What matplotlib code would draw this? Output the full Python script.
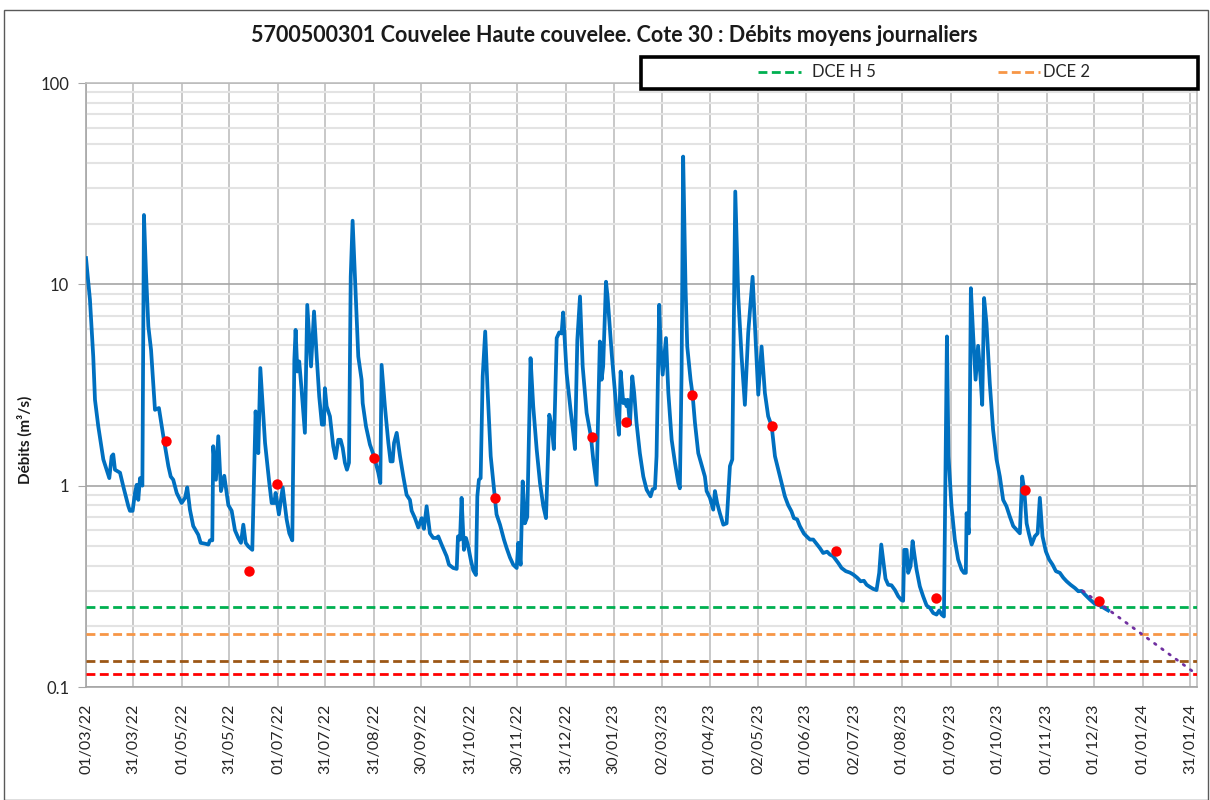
import numpy as np
import matplotlib
matplotlib.use("Agg")
import matplotlib.pyplot as plt
import matplotlib.dates as mdates
from matplotlib.lines import Line2D
from matplotlib.patches import Rectangle
from matplotlib.ticker import LogLocator, NullFormatter
from datetime import datetime

plt.rcParams['font.family'] = ['Lato', 'DejaVu Sans']

# ---------------- data ----------------
start_date = "01/03/22"
# daily mean discharge (m3/s): day offset from start_date, value
flow_days = [
    0, 2.5, 4.6, 5.7, 7.8, 11, 14.8, 16.3, 17.3, 18.4, 21.6, 23.7, 26.9, 27.9, 29.6, 31.1, 32.2, 33.2, 34.3, 35.8,
    36.8, 38.1, 39.6, 41.3, 43.8, 46.3, 49.1, 52.3, 53.8, 55.4, 57.6, 60.7, 62.9, 64.3, 66, 68.1, 71.3, 72.8, 75.6,
    77.7, 78.7, 80.2, 80.8, 82.5, 84, 85.7, 87.8, 90.4, 92.5, 94.6, 96.7, 98.4, 99.9, 101.4, 103, 105.6, 107.7,
    109.4, 110.7, 113.7, 116.4, 117.9, 119.6, 120.4, 122.5, 124.9, 127.4, 129.1, 131, 132.3, 133.1, 134.2, 135.4,
    136.9, 139, 140.5, 142.9, 144.8, 146.5, 148.1, 149.8, 151.1, 151.7, 152.8, 154.9, 157, 158.5, 160.2, 161.7,
    163, 164.4, 165.7, 167, 168.1, 169.3, 170.8, 172.9, 175, 175.7, 177.8, 180.3, 182.9, 185.6, 186.9, 187.7,
    189.8, 192, 193.4, 194.7, 195.6, 197.3, 199.4, 201.5, 203.6, 205.7, 206.8, 208.9, 211, 213.1, 214.6, 216.3,
    218.4, 220.5, 222.7, 223.7, 225.8, 229, 230.5, 233.2, 235.4, 236.2, 237.5, 238.5, 240, 241.3, 242.7, 244.3,
    245.9, 247.6, 248.5, 249.5, 250.6, 251.9, 253.5, 255, 257, 259.7, 260.7, 262.9, 265.4, 267.1, 269.2, 271.3,
    273.5, 274.5, 276, 277.3, 278.7, 280.2, 282.3, 284, 286.2, 288.3, 290.4, 292.1, 294.2, 295.7, 297.1, 298.9,
    300.5, 302, 303, 305.2, 307.7, 309.4, 310.5, 312, 313.7, 315.4, 317.9, 320.6, 322.1, 324.2, 326.3, 327.4,
    328.4, 330.2, 331.2, 333.8, 337, 338.4, 339.5, 341.2, 342.2, 343.3, 344, 345.4, 346.9, 348.1, 349.6, 351.7,
    353.9, 356, 358.5, 359.8, 361.3, 362.3, 364, 364.9, 366.2, 368.3, 369.8, 371.9, 374, 376.1, 377.1, 378.2,
    379.2, 380.7, 381.8, 383.9, 385.2, 386.7, 388.8, 390.9, 393, 394.1, 396.2, 398.3, 399.4, 400.8, 402.5, 404.7,
    406.8, 408.9, 410.4, 411, 412.3, 414.2, 416.3, 418.4, 420.5, 423.3, 424.8, 426.9, 429, 431.1, 433.2, 435.4,
    437.5, 439.6, 441.7, 443.8, 445.9, 448, 449.5, 451.6, 453.3, 455.9, 457.6, 459.7, 461.8, 464.3, 466, 468.1,
    470.6, 472.4, 474.5, 477.7, 479.8, 482.5, 485.1, 487.2, 489.7, 491.9, 494, 495.7, 497.8, 499.9, 502, 503.7,
    505, 506.2, 507.7, 509.4, 511.5, 513.7, 515.8, 517.9, 518.9, 519.6, 521.1, 522.1, 523.6, 524.9, 525.9, 527.4,
    529.5, 531.6, 533.8, 535.9, 538, 540.1, 541.8, 543.3, 544.8, 545.8, 546.7, 547.7, 549.6, 551.7, 553.8, 556,
    557.5, 558.7, 559.2, 560.6, 561.9, 563.4, 564.9, 566.5, 568, 569.1, 570.3, 571.8, 573.9, 576, 578.2, 580.3,
    582.4, 584.5, 586.7, 588.8, 590.9, 593, 594.5, 595.8, 597.3, 598.7, 600.5, 602.5, 604.3, 605.7, 607.4, 609.5,
    611.6, 613.8, 615.9, 618.4, 620.6, 622.7, 625.2, 628, 630.1, 632.2, 634.3, 637.5, 640.6, 643.8, 649.1,
]
flow_values = [
    13.5, 8.4, 4.38, 2.67, 1.97, 1.35, 1.09, 1.40, 1.43, 1.2, 1.16, 0.99, 0.79, 0.75, 0.75, 0.92, 1.01, 0.85, 1.09, 1.0,
    22.1, 11.4, 6.18, 4.73, 2.38, 2.43, 1.76, 1.25, 1.11, 1.07, 0.92, 0.82, 0.87, 0.98, 0.76, 0.63, 0.57, 0.52, 0.515,
    0.51, 0.535, 0.535, 1.57, 1.07, 1.76, 0.94, 1.12, 0.80, 0.75, 0.60, 0.55, 0.52, 0.64, 0.52, 0.50, 0.48, 2.34,
    1.45, 3.84, 1.63, 1.03, 0.82, 0.82, 0.92, 0.72, 0.98, 0.68, 0.58, 0.535, 4.22, 5.94, 3.69, 4.14,
    2.99, 1.83, 7.9, 3.91, 7.33, 4.38, 2.77, 2.01, 2.01, 3.05, 2.48, 2.21, 1.57, 1.37, 1.69, 1.69,
    1.54, 1.30, 1.2, 1.3, 10.9, 20.7, 10.9, 4.38, 3.36, 2.57, 1.97, 1.6, 1.40, 1.16, 1.03, 3.98,
    2.48, 1.63, 1.32, 1.32, 1.63, 1.83, 1.40, 1.11, 0.90, 0.85, 0.75, 0.69, 0.62, 0.69, 0.61, 0.79,
    0.58, 0.55, 0.55, 0.56, 0.51, 0.446, 0.405, 0.39, 0.386, 0.56, 0.54, 0.87, 0.48, 0.55, 0.50, 0.43,
    0.38, 0.36, 0.885, 1.07, 1.09, 3.49, 5.83, 2.99, 1.40, 0.86, 0.72, 0.64, 0.54, 0.49, 0.44, 0.405,
    0.39, 0.52, 0.405, 1.05, 0.65, 0.70, 4.3, 2.48, 1.51, 1.03, 0.79, 0.69, 2.25, 1.97, 1.52, 5.41,
    5.77, 5.7, 7.25, 3.62, 2.38, 1.83, 1.52, 5.3, 8.7, 3.91, 2.3, 1.76, 1.35, 1.01, 5.2, 3.36,
    3.91, 10.3, 8.7, 4.56, 2.3, 1.79, 3.69, 2.57, 2.67, 2.48, 2.67, 2.01, 3.49, 2.89, 2.05, 1.45,
    1.11, 0.955, 0.885, 0.96, 0.97, 1.40, 7.91, 4.91, 3.56, 5.41, 2.89, 1.69, 1.30, 1.03, 0.97, 3.62,
    43.1, 9.75, 4.91, 3.36, 2.83, 2.05, 1.45, 1.27, 1.11, 0.94, 0.87, 0.76, 0.94, 0.82, 0.73, 0.64,
    0.65, 1.25, 1.35, 3.62, 28.9, 8.7, 4.38, 2.52, 5.73, 10.9, 6.18, 2.83, 4.91, 2.89, 2.21, 1.98,
    1.40, 1.2, 1.03, 0.885, 0.80, 0.745, 0.69, 0.68, 0.63, 0.578, 0.56, 0.54, 0.54, 0.51, 0.49, 0.463,
    0.47, 0.455, 0.446, 0.413, 0.39, 0.376, 0.37, 0.362, 0.349, 0.335, 0.337, 0.322, 0.314, 0.307, 0.303, 0.369,
    0.51, 0.43, 0.345, 0.322, 0.32, 0.303, 0.282, 0.27, 0.268, 0.48, 0.48, 0.369, 0.398, 0.53, 0.463, 0.383,
    0.316, 0.282, 0.254, 0.247, 0.233, 0.229, 0.24, 0.229, 0.224, 1.16, 5.51, 1.40, 0.79, 0.54, 0.43, 0.383,
    0.369, 0.369, 0.73, 0.58, 9.57, 5.51, 3.36, 4.95, 3.49, 2.52, 8.55, 6.42, 3.24, 1.90, 1.35, 1.11,
    0.85, 0.79, 0.70, 0.63, 0.605, 0.58, 1.11, 0.955, 0.65, 0.58, 0.51, 0.56, 0.58, 0.87, 0.56, 0.472,
    0.43, 0.405, 0.376, 0.369, 0.349, 0.335, 0.322, 0.31, 0.299, 0.3, 0.288, 0.272, 0.259, 0.254, 0.24,
]
# spot gaugings (red dots)
gauging_days = [50.9, 103.7, 121.1, 183, 260, 321, 343, 385, 435.5, 476, 540, 596, 643]
gauging_values = [1.66, 0.376, 1.02, 1.38, 0.867, 1.74, 2.07, 2.81, 1.97, 0.473, 0.277, 0.95, 0.267]
# recession forecast (purple dotted)
forecast_days = [633, 705.5]
forecast_values = [0.30, 0.1153]
# threshold lines
threshold_values = [0.25, 0.184, 0.135, 0.1155]
threshold_colors = ["#00B050", "#F79646", "#9C5716", "#FF0000"]
legend_labels = ["DCE H 5", "DCE 2"]
x_tick_labels = ["01/03/22", "31/03/22", "01/05/22", "31/05/22", "01/07/22", "31/07/22", "31/08/22", "30/09/22",
                 "31/10/22", "30/11/22", "31/12/22", "30/01/23", "02/03/23", "01/04/23", "02/05/23", "01/06/23",
                 "02/07/23", "01/08/23", "01/09/23", "01/10/23", "01/11/23", "01/12/23", "01/01/24", "31/01/24"]
y_ticks = [0.1, 1, 10, 100]
y_tick_labels = ["0.1", "1", "10", "100"]
title = "5700500301 Couvelee Haute couvelee. Cote 30 : Débits moyens journaliers"
y_label = "Débits (m³/s)"
x_span_days = 705.5

# ---------------- figure ----------------
W, H = 1210, 800
fig = plt.figure(figsize=(W / 100, H / 100), dpi=100)
ax = fig.add_axes([86 / W, 1 - 687 / H, (1197 - 86) / W, (687 - 83) / H])

t0 = mdates.date2num(datetime.strptime(start_date, "%d/%m/%y"))
fx = t0 + np.array(flow_days, dtype=float)
gx = t0 + np.array(gauging_days, dtype=float)
px = t0 + np.array(forecast_days, dtype=float)

for val, col in zip(threshold_values, threshold_colors):
    ax.axhline(val, color=col, lw=2.0, ls=(0, (3.2, 1.6)), zorder=3)

ax.plot(fx, flow_values, color="#0070C0", lw=2.7, zorder=4, solid_joinstyle="round")
ax.plot(px, forecast_values, color="#7030A0", lw=2.0, ls=(0, (0.6, 2.6)), dash_capstyle="round", zorder=5)
ax.plot(gx, gauging_values, ls="none", marker="o", ms=7.5, color="#FF0000", markeredgewidth=0, zorder=6)

ax.set_yscale("log")
ax.set_ylim(0.1, 100)
ax.set_xlim(t0, t0 + x_span_days)

xt = [mdates.date2num(datetime.strptime(s, "%d/%m/%y")) for s in x_tick_labels]
ax.set_xticks(xt)
ax.set_xticklabels(x_tick_labels, rotation=90, fontsize=11.5, color="#262626")
ax.tick_params(axis="x", length=0, pad=12)
ax.set_yticks(y_ticks)
ax.set_yticklabels(y_tick_labels, fontsize=12, color="#262626")
ax.yaxis.set_minor_locator(LogLocator(base=10, subs=np.arange(2, 10)))
ax.yaxis.set_minor_formatter(NullFormatter())
ax.tick_params(axis="y", which="major", length=6, color="#A6A6A6", pad=6)
ax.tick_params(axis="y", which="minor", length=0)

ax.grid(True, axis="x", which="major", color="#BFBFBF", lw=1.2)
ax.grid(True, axis="y", which="major", color="#A6A6A6", lw=1.2)
ax.grid(True, axis="y", which="minor", color="#E3E3E3", lw=1.5)
ax.set_axisbelow(True)
for s in ax.spines.values():
    s.set_color("#BFBFBF")
    s.set_linewidth(1.2)
ax.spines["left"].set_color("#A6A6A6")
ax.spines["bottom"].set_color("#A6A6A6")

fig.text(614 / W, 1 - 36 / H, title, ha="center", va="center", fontsize=15.5, fontweight="bold", color="#1a1a1a")
fig.text(25 / W, 1 - 440 / H, y_label, ha="center", va="center", rotation=90, fontsize=11, fontweight="bold",
         color="#1a1a1a")

# legend box
fig.add_artist(Rectangle((641 / W, 1 - 89 / H), (1198 - 641) / W, 32 / H, transform=fig.transFigure,
                         facecolor="white", edgecolor="black", lw=2.6, zorder=10))
leg_handle_x = [(758, 801), (998, 1040)]
leg_text_x = [812, 1043]
for (xa, xb), tx, lab, col in zip(leg_handle_x, leg_text_x, legend_labels, threshold_colors[:2]):
    fig.add_artist(Line2D([xa / W, xb / W], [1 - 72 / H, 1 - 72 / H], transform=fig.transFigure,
                          color=col, lw=2.0, ls=(0, (3.2, 1.6)), zorder=11))
    fig.text(tx / W, 1 - 72 / H, lab, ha="left", va="center", fontsize=12, color="#262626", zorder=12)

# outer chart border
fig.add_artist(Rectangle((4 / W, 0), (W - 6) / W, 1 - 10 / H, transform=fig.transFigure,
                         facecolor="none", edgecolor="#595959", lw=1.0, zorder=0))

fig.savefig("out.png", dpi=100)
